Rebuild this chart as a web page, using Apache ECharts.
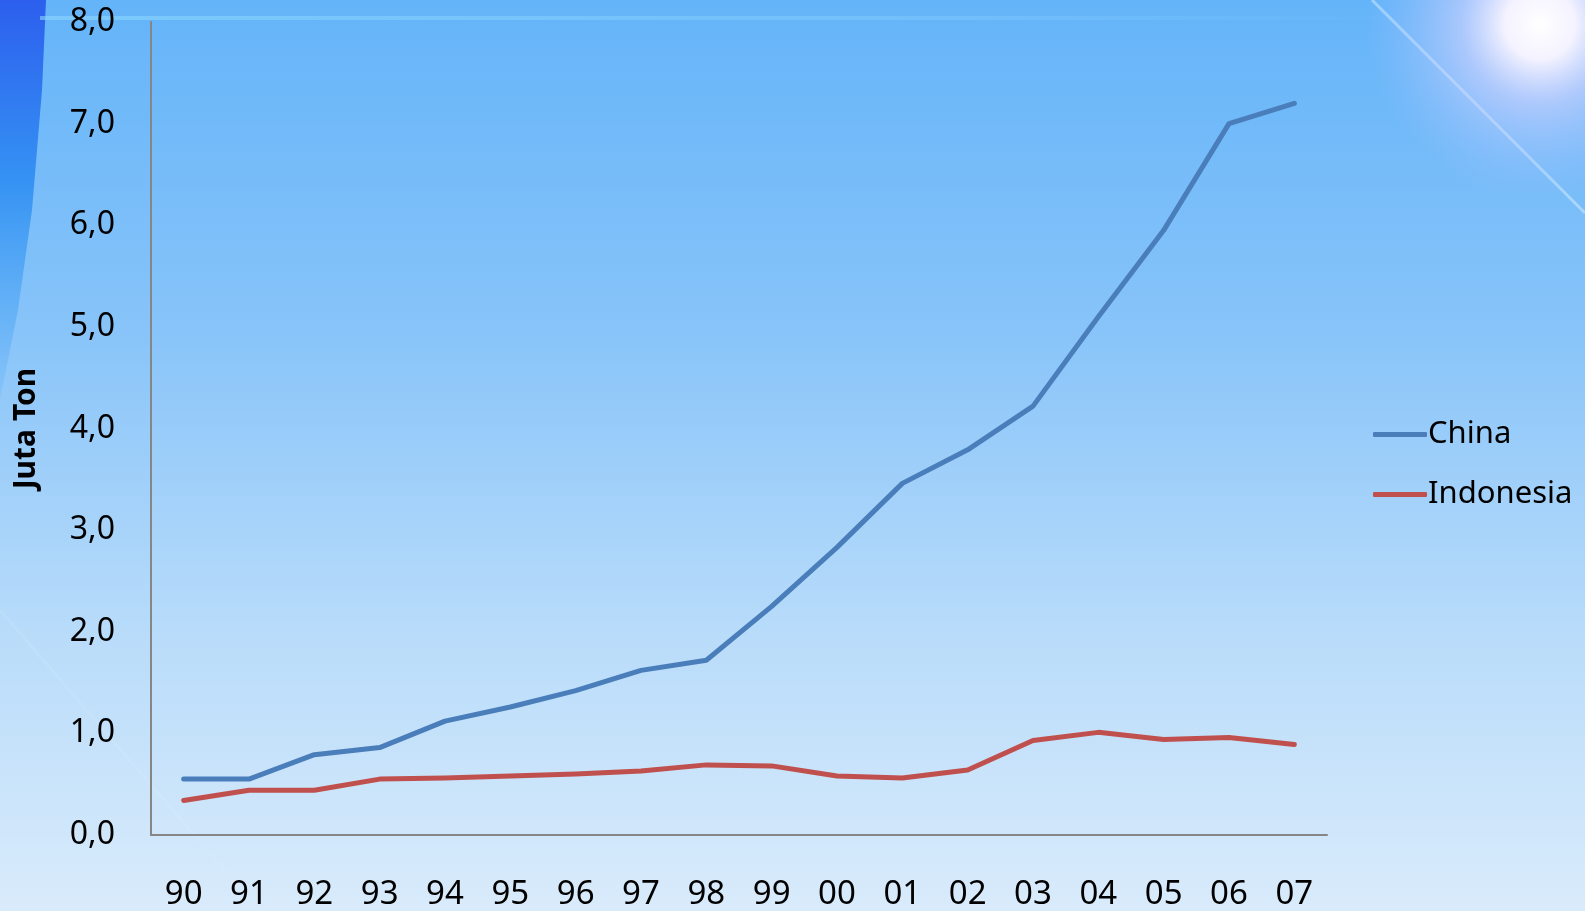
<!DOCTYPE html>
<html>
<head>
<meta charset="utf-8">
<style>
  html, body { margin: 0; padding: 0; width: 1585px; height: 911px; overflow: hidden; }
  #chart { width: 1585px; height: 911px; }
</style>
<script src="https://cdn.jsdelivr.net/npm/echarts@6/dist/echarts.min.js"></script>
</head>
<body>
<div id="chart"></div>
<script>
// Years (two-digit) on the category axis
const years = ['90','91','92','93','94','95','96','97','98','99','00','01','02','03','04','05','06','07'];

// Production, million tons
const china = [0.55, 0.55, 0.79, 0.86, 1.12, 1.26, 1.42, 1.62, 1.72, 2.25, 2.83, 3.46, 3.79, 4.22, 5.10, 5.95, 7.00, 7.20];
const indonesia = [0.34, 0.44, 0.44, 0.55, 0.56, 0.58, 0.60, 0.63, 0.69, 0.68, 0.58, 0.56, 0.64, 0.93, 1.01, 0.94, 0.96, 0.89];

const seriesNames = ['China', 'Indonesia'];
const seriesColors = ['#4a7ebb', '#c0504d'];
const yTicks = { min: 0, max: 8, interval: 1 };
const yName = 'Juta Ton';

const FONT = '"Noto Sans", "Open Sans", sans-serif';

const chart = echarts.init(document.getElementById('chart'), null, { renderer: 'canvas' });

const option = {
  animation: false,
  backgroundColor: {
    type: 'linear', x: 0, y: 0, x2: 0, y2: 1,
    colorStops: [
      { offset: 0, color: '#64b4f9' },
      { offset: 0.35, color: '#86c3f9' },
      { offset: 0.7, color: '#b9dcfa' },
      { offset: 1, color: '#d9ebfb' }
    ]
  },
  graphic: [
    // dark blue streak on the left edge
    {
      type: 'polygon', z: -10, silent: true,
      shape: { points: [[0,0],[46,0],[42,90],[32,210],[18,310],[0,400]] },
      style: {
        fill: {
          type: 'linear', x: 0, y: 0, x2: 0, y2: 1,
          colorStops: [
            { offset: 0, color: '#2c5fee' },
            { offset: 0.45, color: '#3592f3' },
            { offset: 1, color: 'rgba(80,170,245,0.15)' }
          ]
        }
      }
    },
    // faint horizontal highlight near the top
    {
      type: 'rect', z: -9, silent: true,
      shape: { x: 40, y: 16, width: 1380, height: 4 },
      style: {
        fill: {
          type: 'linear', x: 0, y: 0, x2: 1, y2: 0,
          colorStops: [
            { offset: 0, color: 'rgba(140,215,255,0.6)' },
            { offset: 0.6, color: 'rgba(140,215,255,0.35)' },
            { offset: 1, color: 'rgba(140,215,255,0)' }
          ]
        }
      }
    },
    // light ray crossing the top-right corner
    {
      type: 'line', z: -9, silent: true,
      shape: { x1: 1372, y1: 0, x2: 1585, y2: 213 },
      style: { stroke: 'rgba(215,240,255,0.5)', lineWidth: 3 }
    },
    // faint ray lower left
    {
      type: 'line', z: -9, silent: true,
      shape: { x1: 0, y1: 610, x2: 260, y2: 911 },
      style: { stroke: 'rgba(230,245,255,0.12)', lineWidth: 3 }
    },
    // sun glare
    {
      type: 'circle', z: -8, silent: true,
      shape: { cx: 1540, cy: 24, r: 175 },
      style: {
        fill: {
          type: 'radial', x: 0.5, y: 0.5, r: 0.5,
          colorStops: [
            { offset: 0, color: 'rgba(255,255,255,1)' },
            { offset: 0.2, color: 'rgba(252,246,255,0.95)' },
            { offset: 0.45, color: 'rgba(215,212,255,0.6)' },
            { offset: 1, color: 'rgba(160,190,255,0)' }
          ]
        }
      }
    }
  ],
  grid: { left: 151, right: 258, top: 22, bottom: 74, containLabel: false },
  legend: {
    orient: 'vertical',
    left: 1368,
    top: 413,
    itemWidth: 54,
    itemHeight: 5,
    itemGap: 27,
    icon: 'roundRect',
    textStyle: { fontFamily: FONT, fontSize: 31, color: '#000', lineHeight: 33, padding: [0, 0, 0, -4] },
    data: seriesNames
  },
  xAxis: {
    type: 'category',
    data: years,
    boundaryGap: true,
    axisLine: { show: true, lineStyle: { color: '#868686', width: 2 } },
    axisTick: { show: false },
    axisLabel: { fontFamily: FONT, fontSize: 33, color: '#000', margin: 43 },
    splitLine: { show: false }
  },
  yAxis: {
    type: 'value',
    min: yTicks.min, max: yTicks.max, interval: yTicks.interval,
    name: yName,
    nameLocation: 'middle',
    nameGap: 110,
    nameRotate: 90,
    nameTextStyle: { fontFamily: FONT, fontSize: 30, fontWeight: 'bold', color: '#000' },
    axisLine: { show: true, lineStyle: { color: '#868686', width: 2 } },
    axisTick: { show: false },
    splitLine: { show: false },
    axisLabel: {
      fontFamily: FONT, fontSize: 32, color: '#000', margin: 36,
      formatter: v => v.toFixed(1).replace('.', ',')
    }
  },
  series: [
    {
      name: seriesNames[0], type: 'line', data: china,
      symbol: 'none', color: seriesColors[0],
      lineStyle: { width: 5, cap: 'round', join: 'round' }
    },
    {
      name: seriesNames[1], type: 'line', data: indonesia,
      symbol: 'none', color: seriesColors[1],
      lineStyle: { width: 5, cap: 'round', join: 'round' }
    }
  ]
};

chart.setOption(option);
</script>
</body>
</html>
